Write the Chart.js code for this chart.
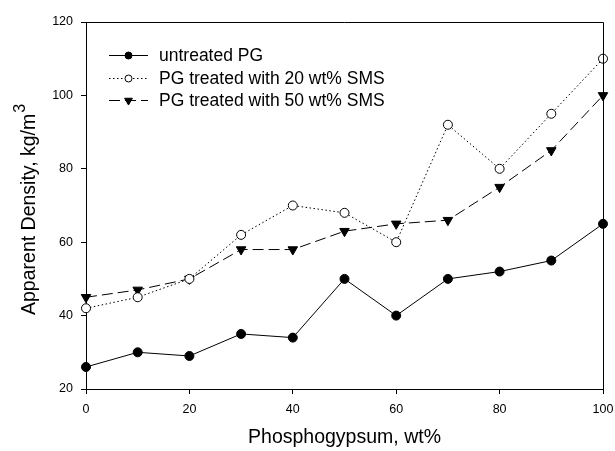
<!DOCTYPE html>
<html>
<head>
<meta charset="utf-8">
<script src="https://cdn.jsdelivr.net/npm/chart.js@4/dist/chart.umd.min.js"></script>
<style>
  html, body { margin: 0; padding: 0; background: #fff; }
  #wrap { width: 615px; height: 451px; }
</style>
</head>
<body>
<div id="wrap"><canvas id="grafico"></canvas></div>
<script>
// datos
const fosfoyeso = [0, 10, 20, 30, 40, 50, 60, 70, 80, 90, 100];
const sinTratar = [26, 30, 29, 35, 34, 50, 40, 50, 52, 55, 65];
const sms20 = [42, 45, 50, 62, 70, 68, 60, 92, 80, 95, 110];
const sms50 = [45, 47, 50, 58, 58, 63, 65, 66, 75, 85, 100];
const nombres = ['untreated PG', 'PG treated with 20 wt% SMS', 'PG treated with 50 wt% SMS'];
const ticksX = [0, 20, 40, 60, 80, 100];
const ticksY = [20, 40, 60, 80, 100, 120];
const tituloY = 'Apparent Density, kg/m';
const exponenteY = '3';

const fuente = '"Liberation Sans", Arial, sans-serif';

function puntos(valores) {
  return fosfoyeso.map((x, i) => ({ x: x, y: valores[i] }));
}

// marco arriba y derecha
const marco = {
  id: 'marco',
  afterDraw(chart) {
    const { ctx, chartArea: a } = chart;
    ctx.save();
    ctx.strokeStyle = '#000';
    ctx.lineWidth = 1;
    ctx.beginPath();
    ctx.moveTo(a.left, a.top + 0.5);
    ctx.lineTo(a.right + 0.5, a.top + 0.5);
    ctx.lineTo(a.right + 0.5, a.bottom);
    ctx.stroke();
    ctx.restore();
  }
};

// titulo del eje y con superindice
const tituloEjeY = {
  id: 'tituloEjeY',
  afterDraw(chart) {
    const ctx = chart.ctx;
    ctx.save();
    ctx.translate(35, 315);
    ctx.rotate(-Math.PI / 2);
    ctx.fillStyle = '#000';
    ctx.textBaseline = 'alphabetic';
    ctx.font = '19.5px ' + fuente;
    ctx.fillText(tituloY, 0, 0);
    const ancho = ctx.measureText(tituloY).width;
    ctx.font = '16px ' + fuente;
    ctx.fillText(exponenteY, ancho + 1, -10);
    ctx.restore();
  }
};

// leyenda con linea y marcador
const leyenda = {
  id: 'leyenda',
  afterDraw(chart) {
    const ctx = chart.ctx;
    const filas = [55, 78, 100];
    chart.data.datasets.forEach((ds, i) => {
      const y = filas[i];
      ctx.save();
      ctx.strokeStyle = '#000';
      ctx.lineWidth = 1;
      ctx.setLineDash(ds.borderDash || []);
      ctx.beginPath();
      ctx.moveTo(109, y + 0.5);
      ctx.lineTo(148, y + 0.5);
      ctx.stroke();
      ctx.setLineDash([]);
      ctx.fillStyle = ds.pointBackgroundColor;
      ctx.strokeStyle = '#000';
      Chart.helpers.drawPoint(ctx, {
        pointStyle: ds.pointStyle,
        rotation: ds.pointRotation || 0,
        radius: ds.pointStyle === 'triangle' ? 4.5 : 3.5,
        borderWidth: 1
      }, 128.5, y + 0.5);
      ctx.restore();
      ctx.save();
      ctx.fillStyle = '#000';
      ctx.font = '17.5px ' + fuente;
      ctx.textBaseline = 'middle';
      ctx.fillText(ds.label, 159, y + 1);
      ctx.restore();
    });
  }
};

const serie = (label, valores, estilo) => Object.assign({
  label: label,
  data: puntos(valores),
  borderColor: '#000',
  borderWidth: 1,
  pointBorderColor: '#000',
  pointBorderWidth: 1,
  pointRadius: 4.5,
  pointHoverRadius: 4.5,
  tension: 0,
  clip: false
}, estilo);

new Chart(document.getElementById('grafico'), {
  type: 'line',
  data: {
    datasets: [
      serie(nombres[0], sinTratar, { pointStyle: 'circle', pointBackgroundColor: '#000', backgroundColor: '#000' }),
      serie(nombres[1], sms20, { pointStyle: 'circle', pointBackgroundColor: '#fff', backgroundColor: '#fff', borderDash: [1.5, 2.5] }),
      serie(nombres[2], sms50, { pointStyle: 'triangle', pointRotation: 180, pointRadius: 5.5, pointHoverRadius: 5.5, pointBackgroundColor: '#000', backgroundColor: '#000', borderDash: [11, 5] })
    ]
  },
  options: {
    responsive: true,
    maintainAspectRatio: false,
    animation: false,
    events: [],
    layout: { padding: { top: 22, right: 12, left: 0, bottom: 0 } },
    plugins: { legend: { display: false }, tooltip: { enabled: false } },
    scales: {
      x: {
        type: 'linear',
        min: 0,
        max: 100,
        afterBuildTicks: (s) => { s.ticks = ticksX.map(v => ({ value: v })); },
        afterFit: (s) => { s.height = 62; s.paddingLeft = 0; s.paddingRight = 0; },
        border: { color: '#000', width: 1 },
        grid: { drawOnChartArea: false, color: '#000', tickLength: 5 },
        ticks: { color: '#000', padding: 8, maxRotation: 0, font: { family: fuente, size: 12.5 } },
        title: { display: true, text: 'Phosphogypsum, wt%', color: '#000', padding: { top: 0, bottom: 2 }, font: { family: fuente, size: 19.5 } }
      },
      y: {
        type: 'linear',
        min: 20,
        max: 120,
        afterBuildTicks: (s) => { s.ticks = ticksY.map(v => ({ value: v })); },
        afterFit: (s) => { s.width = 86; s.paddingTop = 0; s.paddingBottom = 0; },
        border: { color: '#000', width: 1 },
        grid: { drawOnChartArea: false, color: '#000', tickLength: 5 },
        ticks: { color: '#000', padding: 8, font: { family: fuente, size: 12.5 } },
        title: { display: false }
      }
    }
  },
  plugins: [marco, tituloEjeY, leyenda]
});
</script>
</body>
</html>
